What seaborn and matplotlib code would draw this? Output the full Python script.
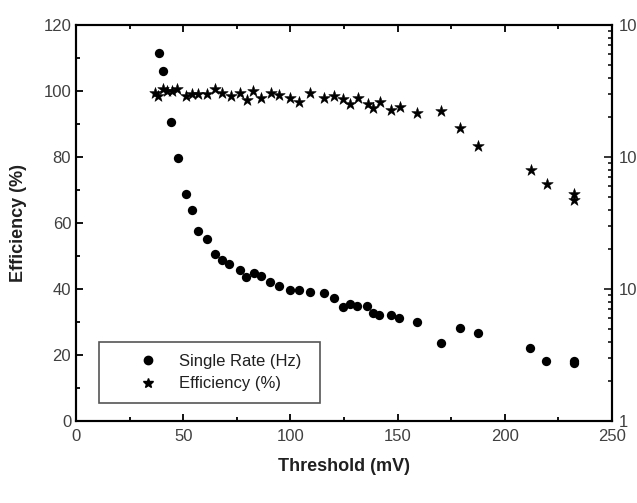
import matplotlib
matplotlib.use("Agg")
import matplotlib.pyplot as plt
import matplotlib.ticker as mticker
from matplotlib.lines import Line2D
import seaborn as sns
import pandas as pd

sns.set_style("white")
plt.rcParams['font.family'] = ['Liberation Sans', 'DejaVu Sans']

# Single rate (Hz) vs threshold (mV) -- right log axis
rate_threshold = [38.7, 40.6, 44.3, 47.6, 51.3, 54.1, 56.9, 61.1, 64.8, 68.1, 71.4, 76.5,
                  79.3, 83.0, 86.3, 90.5, 94.7, 99.8, 104.0, 109.1, 115.7, 120.3, 124.5,
                  127.8, 131.1, 135.7, 138.5, 141.3, 146.9, 150.7, 159.0, 170.2, 179.1,
                  187.5, 211.8, 219.2, 232.3, 232.3]
rate_hz = [615, 451, 183, 98, 52.7, 40, 27.3, 23.8, 18.3, 16.5, 15.4, 13.9,
           12.3, 13.2, 12.5, 11.3, 10.5, 9.8, 9.8, 9.5, 9.3, 8.6, 7.3,
           7.7, 7.45, 7.45, 6.6, 6.3, 6.3, 6.05, 5.65, 3.93, 5.09,
           4.67, 3.6, 2.83, 2.83, 2.73]

# Efficiency (%) vs threshold (mV) -- left axis
eff_threshold = [36.8, 38.2, 40.6, 42.4, 44.8, 47.1, 51.3, 54.1, 56.9, 61.1, 64.8, 68.1,
                 72.3, 76.5, 79.7, 82.6, 86.3, 91.0, 94.7, 99.8, 104.0, 109.1, 115.7,
                 120.3, 124.5, 127.8, 131.5, 136.2, 138.5, 141.8, 146.9, 151.1, 159.0,
                 170.2, 179.1, 187.5, 212.2, 219.7, 232.3, 232.3]
efficiency = [99.4, 98.5, 100.6, 100.0, 100.0, 100.6, 98.5, 99.1, 99.1, 99.1, 100.6, 99.4,
              98.5, 99.4, 97.2, 100.0, 97.8, 99.4, 98.8, 97.9, 96.6, 99.4, 97.8,
              98.5, 97.5, 96.1, 97.9, 96.1, 94.9, 96.6, 94.3, 95.2, 93.4,
              94.0, 88.8, 83.4, 76.1, 71.9, 68.9, 67.1]

legend_labels = ["Single Rate (Hz)", "Efficiency (%)"]

df_rate = pd.DataFrame({"x": rate_threshold, "y": rate_hz})
df_eff = pd.DataFrame({"x": eff_threshold, "y": efficiency})

fig = plt.figure(figsize=(6.37, 5.03), dpi=100)
ax = fig.add_axes([76/637, 1-421/503, (612-76)/637, (421-25)/503])
ax2 = ax.twinx()

sns.scatterplot(data=df_eff, x="x", y="y", ax=ax, marker="*", s=75, color="black",
                edgecolor="black", linewidth=0.4, legend=False, zorder=3)
sns.scatterplot(data=df_rate, x="x", y="y", ax=ax2, marker="o", s=45, color="black",
                edgecolor="black", linewidth=0, legend=False, zorder=3)

ax.set_xlim(0, 250)
ax.set_ylim(0, 120)
ax2.set_yscale("log")
ax2.set_ylim(1, 1000)

tick_color = "#404040"
fs = 12
ax.xaxis.set_major_locator(mticker.MultipleLocator(50))
ax.xaxis.set_minor_locator(mticker.MultipleLocator(25))
ax.yaxis.set_major_locator(mticker.MultipleLocator(20))
ax.yaxis.set_minor_locator(mticker.MultipleLocator(10))
ax.tick_params(axis="both", which="both", direction="in", top=True, right=False,
               bottom=True, left=True, width=1.3, colors="black", labelcolor=tick_color,
               labelsize=fs)
ax.tick_params(which="major", length=5)
ax.tick_params(which="minor", length=3)
ax.tick_params(axis="x", pad=6)

ax2.yaxis.set_major_locator(mticker.LogLocator(base=10))
ax2.yaxis.set_minor_locator(mticker.LogLocator(base=10, subs=range(2, 10)))
ax2.yaxis.set_major_formatter(mticker.FuncFormatter(lambda v, p: f"{v:g}"))
ax2.yaxis.set_minor_formatter(mticker.NullFormatter())
ax2.tick_params(axis="y", which="both", direction="in", right=True, width=1.3,
                labelcolor=tick_color, labelsize=fs, pad=5)
ax2.tick_params(which="major", length=6)
ax2.tick_params(which="minor", length=3)

for a in (ax, ax2):
    for sp in a.spines.values():
        sp.set_linewidth(1.5)
        sp.set_color("black")
        sp.set_visible(True)

ax.set_xlabel("Threshold (mV)", fontsize=13, fontweight="bold", color="#202020", labelpad=10)
ax.set_ylabel("Efficiency (%)", fontsize=13, fontweight="bold", color="#202020", labelpad=12)
ax2.set_ylabel("")

handles = [
    Line2D([], [], marker="o", linestyle="none", color="black", markersize=6),
    Line2D([], [], marker="*", linestyle="none", color="black", markersize=7),
]
leg = ax.legend(handles, legend_labels, loc="lower left",
                bbox_to_anchor=(23/536, 18/396, 221/536, 61/396), mode="expand",
                fontsize=12, frameon=True, fancybox=False, framealpha=1,
                edgecolor="#555555", handletextpad=-0.38, borderpad=0.7,
                labelspacing=0.45, handlelength=4.47, borderaxespad=0)
leg.get_frame().set_linewidth(1.2)
for t in leg.get_texts():
    t.set_color("#202020")

fig.savefig("out.png", dpi=100)
